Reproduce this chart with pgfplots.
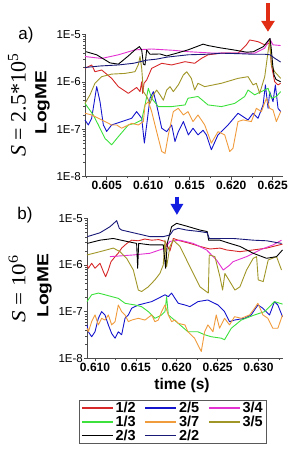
\documentclass[border=0pt]{standalone}
\usepackage{fontspec}
\setmainfont{Liberation Sans}
\newfontfamily\serifS{Liberation Serif}
\usepackage{pgfplots}
\pgfplotsset{compat=1.18}
\usetikzlibrary{arrows.meta}
\definecolor{cRed}{RGB}{214,40,40}
\definecolor{cBlue}{RGB}{20,20,205}
\definecolor{cMag}{RGB}{228,50,210}
\definecolor{cGreen}{RGB}{60,225,60}
\definecolor{cOrange}{RGB}{240,155,60}
\definecolor{cOlive}{RGB}{160,150,40}
\definecolor{cNavy}{RGB}{25,25,120}
\definecolor{cArrowRed}{RGB}{225,45,20}
\definecolor{cArrowBlue}{RGB}{20,30,225}
\begin{document}
\begin{tikzpicture}
\useasboundingbox (0pt,0pt) rectangle (291pt,-455pt);
% ---------------- panel a ----------------
\begin{axis}[at={(85pt,-176.7pt)}, anchor=south west,
  scale only axis, width=198pt, height=142.4pt,
  ymode=log,
  axis x line*=bottom, axis y line*=left,
  axis line style={black!70, line width=0.6pt},
  tick align=outside, major tick length=3pt, minor tick length=1.6pt,
  tick style={black!70, line width=0.5pt},
  ymin=1e-8, ymax=1e-5,
  ytick={1e-8,1e-7,1e-6,1e-5}, yticklabels={1E-8,1E-7,1E-6,1E-5},
  yticklabel style={font=\fontsize{11.5}{12}\selectfont, inner xsep=1pt},
  xticklabel style={font=\bfseries\fontsize{12}{12}\selectfont, inner ysep=1.5pt},
  clip=false,
  xmin=0.60239, xmax=0.62624,
  xtick={0.605,0.610,0.615,0.620,0.625},
  xticklabels={0.605,0.610,0.615,0.620,0.625},
  minor xtick={0.6025,0.6075,0.6125,0.6175,0.6225}]
\addplot[cRed, line width=0.9pt, line join=round] coordinates {
(0.60239,1.92e-6)(0.60319,2.26e-6)(0.60359,1.63e-6)(0.60440,1.77e-6)(0.60560,1.18e-6)
(0.60641,7.9e-7)(0.60761,5.7e-7)(0.60861,7.6e-7)(0.60902,6.2e-7)(0.60922,1.0e-6)
(0.60934,5.7e-7)(0.60950,9.3e-7)(0.60982,1.09e-6)(0.61042,1.92e-6)(0.61163,2.45e-6)
(0.61283,2.26e-6)(0.61444,2.65e-6)(0.61560,2.45e-6)(0.61641,3.1e-6)(0.61721,3.7e-6)
(0.61882,4.0e-6)(0.62082,4.0e-6)(0.62183,6.0e-6)(0.62223,7.6e-6)(0.62323,7.0e-6)
(0.62404,6.0e-6)(0.62464,6.5e-6)(0.62484,2.26e-6)(0.62524,1.0e-6)(0.62564,8.6e-7)(0.62596,9.3e-7)};
\addplot[cBlue, line width=0.9pt, line join=round] coordinates {
(0.60239,1.57e-7)(0.60279,1.23e-7)(0.60319,1.7e-7)(0.60380,7.9e-7)(0.60420,3.8e-7)
(0.60460,1.23e-7)(0.60500,9.0e-8)(0.60560,1.23e-7)(0.60681,1.45e-7)(0.60801,1.7e-7)
(0.60861,2.35e-7)(0.60922,1.7e-7)(0.60954,5.1e-8)(0.60982,1.23e-7)(0.61022,4.5e-7)
(0.61062,6.2e-7)(0.61102,3.25e-7)(0.61163,1.05e-7)(0.61223,8.9e-8)(0.61283,1.23e-7)
(0.61323,5.5e-8)(0.61363,8.9e-8)(0.61424,1.45e-7)(0.61484,7.6e-8)(0.61540,1.05e-7)
(0.61600,7.6e-8)(0.61661,9.5e-8)(0.61701,7.6e-8)(0.61761,3.7e-8)(0.61841,7.6e-8)
(0.61962,1.23e-7)(0.62082,2.17e-7)(0.62203,1.57e-7)(0.62263,2.17e-7)(0.62323,1.7e-7)
(0.62384,3.25e-7)(0.62412,8.6e-7)(0.62444,2.76e-7)(0.62464,6.2e-7)(0.62504,3.8e-7)
(0.62532,8.6e-7)(0.62564,2.76e-7)(0.62596,2.35e-7)};
\addplot[cMag, line width=0.9pt, line join=round] coordinates {
(0.60239,3.4e-6)(0.60440,3.1e-6)(0.60641,3.7e-6)(0.60841,4.7e-6)(0.61042,4.9e-6)
(0.61303,4.6e-6)(0.61484,4.3e-6)(0.61801,4.0e-6)(0.62106,4.0e-6)(0.62283,4.0e-6)
(0.62404,5.1e-6)(0.62464,8.0e-6)(0.62504,6.0e-6)(0.62596,5.8e-6)};
\addplot[cGreen, line width=0.9pt, line join=round] coordinates {
(0.60239,3.5e-7)(0.60339,2.0e-7)(0.60400,1.23e-7)(0.60480,6.4e-8)(0.60560,4.7e-8)
(0.60641,7.0e-8)(0.60761,1.23e-7)(0.60841,1.33e-7)(0.60922,1.57e-7)(0.60962,3.25e-7)
(0.61002,7.3e-7)(0.61042,4.5e-7)(0.61122,3.0e-7)(0.61283,3.0e-7)(0.61444,3.25e-7)
(0.61480,4.5e-7)(0.61600,4.9e-7)(0.61721,3.25e-7)(0.61882,3.0e-7)(0.62042,3.5e-7)
(0.62163,4.9e-7)(0.62203,6.7e-7)(0.62283,5.3e-7)(0.62444,7.3e-7)(0.62484,4.5e-7)
(0.62544,4.9e-7)(0.62596,6.2e-7)};
\addplot[cOrange, line width=0.9pt, line join=round] coordinates {
(0.60239,2.17e-7)(0.60319,2.0e-7)(0.60400,1.7e-7)(0.60480,1.45e-7)(0.60560,1.23e-7)
(0.60620,1.23e-7)(0.60681,1.05e-7)(0.60801,1.33e-7)(0.60882,1.23e-7)(0.60942,1.45e-7)
(0.60962,3.25e-7)(0.61002,3.8e-7)(0.61042,2.35e-7)(0.61102,8.9e-8)(0.61163,3.4e-8)
(0.61203,3.1e-8)(0.61243,7.6e-8)(0.61303,2.35e-7)(0.61363,2.76e-7)(0.61424,2.0e-7)
(0.61480,2.35e-7)(0.61540,1.45e-7)(0.61600,2.0e-7)(0.61681,1.23e-7)(0.61761,5.1e-8)
(0.61841,8.9e-8)(0.61922,7.6e-8)(0.61982,3.4e-8)(0.62022,4.0e-8)(0.62082,1.45e-7)
(0.62143,1.57e-7)(0.62243,1.45e-7)(0.62303,2.76e-7)(0.62364,2.35e-7)(0.62424,4.5e-7)
(0.62464,2.76e-7)(0.62504,2.55e-7)(0.62544,1.45e-7)(0.62596,2.35e-7)};
\addplot[cOlive, line width=0.9pt, line join=round] coordinates {
(0.60239,3.5e-7)(0.60299,5.3e-7)(0.60359,9.3e-7)(0.60440,1.28e-6)(0.60560,1.45e-6)
(0.60721,1.5e-6)(0.60841,1.63e-6)(0.60882,2.3e-6)(0.60902,3.4e-6)(0.60922,1.92e-6)
(0.60942,6.2e-7)(0.60982,4.9e-7)(0.61022,3.5e-7)(0.61062,5.3e-7)(0.61102,6.7e-7)
(0.61143,5.3e-7)(0.61183,4.1e-7)(0.61223,6.7e-7)(0.61263,7.9e-7)(0.61303,6.2e-7)
(0.61363,8.6e-7)(0.61424,1.39e-6)(0.61464,1.63e-6)(0.61520,1.18e-6)(0.61560,6.7e-7)
(0.61600,9.3e-7)(0.61681,7.9e-7)(0.61882,9.3e-7)(0.62082,1.18e-6)(0.62203,1.28e-6)
(0.62263,8.6e-7)(0.62303,9.3e-7)(0.62343,5.7e-7)(0.62404,1.28e-6)(0.62444,4.3e-6)
(0.62464,7.6e-6)(0.62484,2.26e-6)(0.62524,1.63e-6)(0.62596,1.18e-6)};
\addplot[black, line width=0.9pt, line join=round] coordinates {
(0.60251,4.3e-6)(0.60380,3.7e-6)(0.60540,2.5e-6)(0.60641,2.35e-6)(0.60761,3.5e-6)
(0.60841,4.7e-6)(0.60894,5.5e-6)(0.60922,4.7e-6)(0.60942,2.35e-6)(0.60962,2.26e-6)
(0.60982,4.7e-6)(0.61022,3.8e-6)(0.61143,3.85e-6)(0.61223,3.5e-6)(0.61343,4.0e-6)
(0.61480,4.7e-6)(0.61584,5.5e-6)(0.61661,6.2e-6)(0.61721,5.8e-6)(0.61866,5.2e-6)
(0.62026,4.7e-6)(0.62187,4.2e-6)(0.62267,4.3e-6)(0.62388,5.5e-6)(0.62452,7.6e-6)
(0.62468,8.2e-6)(0.62484,4.7e-6)(0.62500,2.26e-6)(0.62516,1.39e-6)(0.62540,1.12e-6)(0.62596,1.0e-6)};
\addplot[cNavy, line width=0.9pt, line join=round] coordinates {
(0.60239,2.0e-6)(0.60420,2.15e-6)(0.60641,2.26e-6)(0.60821,2.45e-6)(0.60982,2.85e-6)
(0.61102,3.0e-6)(0.61223,3.3e-6)(0.61480,3.7e-6)(0.61705,3.8e-6)(0.61882,4.0e-6)
(0.62106,3.9e-6)(0.62267,3.8e-6)(0.62404,3.8e-6)(0.62468,3.7e-6)(0.62528,3.1e-6)(0.62596,2.6e-6)};
\draw[cArrowRed, line width=4.5pt, -{Triangle[width=13pt,length=11pt]}]
  (axis cs:0.62443,4.5e-5) -- (axis cs:0.62443,1.13e-5);
\end{axis}
% ---------------- panel b ----------------
\begin{axis}[at={(87pt,-358.3pt)}, anchor=south west,
  scale only axis, width=196pt, height=140pt,
  ymode=log,
  axis x line*=bottom, axis y line*=left,
  axis line style={black!70, line width=0.6pt},
  tick align=outside, major tick length=3pt, minor tick length=1.6pt,
  tick style={black!70, line width=0.5pt},
  ymin=1e-8, ymax=1e-5,
  ytick={1e-8,1e-7,1e-6,1e-5}, yticklabels={1E-8,1E-7,1E-6,1E-5},
  yticklabel style={font=\fontsize{11.5}{12}\selectfont, inner xsep=1pt},
  xticklabel style={font=\bfseries\fontsize{12}{12}\selectfont, inner ysep=1.5pt},
  clip=false,
  xmin=0.60902, xmax=0.6330,
  xtick={0.610,0.615,0.620,0.625,0.630},
  xticklabels={0.610,0.615,0.620,0.625,0.630},
  minor xtick={0.6125,0.6175,0.6225,0.6275,0.6325},
  legend columns=3,
  legend cell align=left,
  legend style={at={(-0.0408,-0.298)}, anchor=north west, draw=black!65, line width=0.6pt,
    font=\bfseries\fontsize{14.5}{14.5}\selectfont, inner xsep=2pt, inner ysep=1.5pt,
    row sep=1.2pt, nodes={inner xsep=2pt, inner ysep=0.3pt},
    /tikz/every even column/.append style={column sep=7pt}},
  legend image code/.code={\draw[#1, line width=1.3pt] (0pt,0pt) -- (31pt,0pt);}]
\addplot[cRed, line width=0.9pt, line join=round] coordinates {
(0.60902,1e-6)(0.60919,8.5e-7)(0.60959,1.09e-6)(0.61000,8.5e-7)(0.61061,1.09e-6)
(0.61102,7.2e-7)(0.61130,5.6e-7)(0.61163,7.8e-7)(0.61196,1.18e-6)(0.61245,1.5e-6)
(0.61285,1.8e-6)(0.61326,2.3e-6)(0.61390,2.9e-6)(0.61448,3.4e-6)(0.61530,3.3e-6)
(0.61610,3.6e-6)(0.61693,3.4e-6)(0.61780,3.5e-6)(0.61856,3.2e-6)(0.61917,2.0e-6)
(0.61958,3.7e-6)(0.62039,3.3e-6)(0.62161,2.9e-6)(0.62284,2.5e-6)(0.62406,2.2e-6)
(0.62530,2.3e-6)(0.62610,2.1e-6)(0.62773,1.93e-6)(0.62936,2.1e-6)(0.63099,2.3e-6)(0.63294,2.8e-6)};
\addlegendentry{1/2}
\addplot[cBlue, line width=0.9pt, line join=round] coordinates {
(0.60902,5.2e-8)(0.60919,3.7e-8)(0.60959,2.9e-8)(0.61000,3.7e-8)(0.61041,7.2e-8)
(0.61081,1e-7)(0.61122,8.5e-8)(0.61163,5.2e-8)(0.61204,3.4e-8)(0.61245,2.7e-8)
(0.61285,3.7e-8)(0.61326,3.2e-8)(0.61367,7.2e-8)(0.61408,8.5e-8)(0.61448,1.18e-7)
(0.61530,1.39e-7)(0.61611,1.51e-7)(0.61693,1.64e-7)(0.61774,1.93e-7)(0.61856,2.3e-7)
(0.61897,2.1e-7)(0.61937,2.5e-7)(0.61978,1.93e-7)(0.62019,1.51e-7)(0.62100,1.39e-7)
(0.62161,1.28e-7)(0.62259,1.64e-7)(0.62381,1.78e-7)(0.62504,1.39e-7)(0.62585,1e-7)
(0.62646,6.1e-8)(0.62707,6.6e-8)(0.62830,7.2e-8)(0.62911,8.5e-8)(0.62993,1.39e-7)
(0.63054,1.18e-7)(0.63135,8.5e-8)(0.63196,1.64e-7)(0.63237,1.39e-7)(0.63294,7.8e-8)};
\addlegendentry{2/5}
\addplot[cMag, line width=0.9pt, line join=round] coordinates {
(0.61183,1.51e-6)(0.61469,1.64e-6)(0.61672,1.78e-6)(0.61856,2.3e-6)(0.61917,3.2e-6)
(0.62039,3.4e-6)(0.62202,2.9e-6)(0.62365,2.1e-6)(0.62487,1.28e-6)(0.62569,7.8e-7)
(0.62650,1e-6)(0.62691,1.18e-6)(0.62854,1.51e-6)(0.63017,2.1e-6)(0.63180,2.7e-6)(0.63282,3.4e-6)};
\addlegendentry{3/4}
\addplot[cGreen, line width=0.9pt, line join=round] coordinates {
(0.60902,1.64e-7)(0.60959,2.3e-7)(0.61041,2.5e-7)(0.61122,2.3e-7)(0.61204,2.1e-7)
(0.61285,1.93e-7)(0.61367,1.51e-7)(0.61489,1.39e-7)(0.61570,1.28e-7)(0.61652,1e-7)
(0.61733,7.2e-8)(0.61815,8.5e-8)(0.61856,1e-7)(0.61876,2.1e-7)(0.61897,8.5e-8)
(0.62019,5.6e-8)(0.62137,3.7e-8)(0.62259,3.7e-8)(0.62341,3.2e-8)(0.62422,2.9e-8)
(0.62544,2.7e-8)(0.62585,2.5e-8)(0.62606,2.9e-8)(0.62667,4.4e-8)(0.62789,6.6e-8)
(0.62952,8.5e-8)(0.63074,1e-7)(0.63196,1.64e-7)(0.63294,1.45e-7)};
\addlegendentry{1/3}
\addplot[cOrange, line width=0.9pt, line join=round] coordinates {
(0.60902,4.4e-8)(0.60919,3.7e-8)(0.60959,6.1e-8)(0.61000,8.5e-8)(0.61041,5.2e-8)
(0.61081,7.2e-8)(0.61122,6.6e-8)(0.61163,8.5e-8)(0.61204,5.2e-8)(0.61245,6.1e-8)
(0.61285,1.39e-7)(0.61326,1e-7)(0.61367,8.5e-8)(0.61408,6.1e-8)(0.61448,6.6e-8)
(0.61530,7.2e-8)(0.61611,6.6e-8)(0.61693,8.5e-8)(0.61733,6.1e-8)(0.61774,6.6e-8)
(0.61815,1e-7)(0.61856,1.39e-7)(0.61897,8.5e-8)(0.61937,6.1e-8)(0.61978,6.6e-8)
(0.62019,5.6e-8)(0.62100,5.2e-8)(0.62137,3.7e-8)(0.62218,2.7e-8)(0.62280,1.64e-8)
(0.62300,1.4e-8)(0.62341,3.7e-8)(0.62381,5.2e-8)(0.62443,3.7e-8)(0.62483,8.5e-8)
(0.62524,4.4e-8)(0.62585,7.2e-8)(0.62646,5.2e-8)(0.62707,7.8e-8)(0.62789,7.2e-8)
(0.62891,8.5e-8)(0.62952,1.18e-7)(0.62993,1.51e-7)(0.63054,8.5e-8)(0.63115,7.2e-8)
(0.63176,4.4e-8)(0.63237,4.4e-8)(0.63294,8.5e-8)};
\addlegendentry{3/7}
\addplot[cOlive, line width=0.9pt, line join=round] coordinates {
(0.60902,1.64e-6)(0.61061,1.93e-6)(0.61224,2.3e-6)(0.61306,1.93e-6)(0.61387,1.39e-6)
(0.61469,7.8e-7)(0.61530,2.9e-7)(0.61570,2.7e-7)(0.61652,3.4e-7)(0.61733,4.8e-7)
(0.61794,6.6e-7)(0.61835,1e-6)(0.61856,3.4e-6)(0.61876,9.2e-7)(0.61917,2.5e-6)
(0.61958,3.4e-6)(0.62039,2.5e-6)(0.62161,9.2e-7)(0.62284,3.4e-7)(0.62386,2.5e-7)
(0.62398,1.64e-6)(0.62467,1.51e-6)(0.62528,5.6e-7)(0.62561,2.9e-7)(0.62589,6.6e-7)
(0.62650,4.4e-7)(0.62712,2.9e-7)(0.62773,3.4e-7)(0.62854,7.8e-7)(0.62936,1.39e-6)
(0.62977,1.51e-6)(0.62997,4.8e-7)(0.63058,4.4e-7)(0.63119,1.28e-6)(0.63221,1.51e-6)(0.63282,7.8e-7)};
\addlegendentry{3/5}
\addplot[black, line width=0.9pt, line join=round] coordinates {
(0.60906,2.9e-6)(0.61061,3.4e-6)(0.61224,3.7e-6)(0.61387,3.2e-6)(0.61509,2.9e-6)
(0.61522,8.5e-7)(0.61534,2.9e-6)(0.61672,2.7e-6)(0.61835,2.7e-6)(0.61864,8.5e-7)
(0.61884,2.9e-6)(0.61937,6.6e-6)(0.61998,7.8e-6)(0.62121,6.8e-6)(0.62284,5.6e-6)
(0.62373,5.2e-6)(0.62390,3.4e-6)(0.62528,3.4e-6)(0.62650,2.9e-6)(0.62773,2.5e-6)
(0.62936,1.78e-6)(0.63099,1.39e-6)(0.63221,1.51e-6)(0.63294,2.1e-6)};
\addlegendentry{2/3}
\addplot[cNavy, line width=0.9pt, line join=round] coordinates {
(0.60906,4.05e-6)(0.61061,4.9e-6)(0.61183,6.6e-6)(0.61265,8.9e-6)(0.61297,6.1e-6)
(0.61326,5.6e-6)(0.61469,4.9e-6)(0.61672,4.05e-6)(0.61835,4.05e-6)(0.61917,4.4e-6)
(0.61958,5.6e-6)(0.62019,6.1e-6)(0.62121,5.6e-6)(0.62284,5.2e-6)(0.62373,4.9e-6)
(0.62398,3.7e-6)(0.62528,3.7e-6)(0.62691,3.7e-6)(0.62936,3.4e-6)(0.63099,3.3e-6)(0.63282,2.9e-6)};
\addlegendentry{2/2}
\draw[cArrowBlue, line width=4pt, -{Triangle[width=12pt,length=11pt]}]
  (axis cs:0.62002,2.93e-5) -- (axis cs:0.62002,1.18e-5);
\end{axis}
% ---------------- labels ----------------
\node[font=\fontsize{17}{17}\selectfont] at (26pt,-35pt) {a)};
\node[font=\fontsize{17}{17}\selectfont] at (25pt,-215pt) {b)};
\node[rotate=90, font=\serifS\fontsize{22}{22}\selectfont] at (17pt,-105pt)
  {\textit{S} = 2.5*10\textsuperscript{5}};
\node[rotate=90, font=\serifS\fontsize{20}{20}\selectfont] at (17pt,-289pt)
  {\scalebox{1.15}[1]{\textit{S} = 10\textsuperscript{6}}};
\node[rotate=90, font=\bfseries\fontsize{16}{16}\selectfont] at (42.5pt,-102.5pt) {\scalebox{1.2}[1]{LogME}};
\node[rotate=90, font=\bfseries\fontsize{16}{16}\selectfont] at (44.5pt,-285.5pt) {\scalebox{1.2}[1]{LogME}};
\node[font=\bfseries\fontsize{15.5}{16}\selectfont] at (182pt,-385pt) {time (s)};
\end{tikzpicture}
\end{document}
